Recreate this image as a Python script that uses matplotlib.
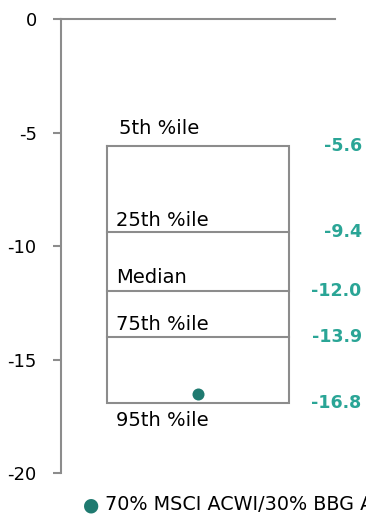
import matplotlib
matplotlib.use("Agg")
import matplotlib.pyplot as plt

# ===== data =====
pct_names = ["5th %ile", "25th %ile", "Median", "75th %ile", "95th %ile"]
pct_values = [-5.6, -9.4, -12.0, -14.0, -16.9]      # where the lines sit
pct_labels = ["-5.6", "-9.4", "-12.0", "-13.9", "-16.8"]  # printed values
portfolio_value = -16.5
portfolio_name = "70% MSCI ACWI/30% BBG Agg"
y_ticks = [0, -5, -10, -15, -20]
# =======================================

GRAY = "#8c8c8c"
TEAL_DOT = "#1f7a70"
TEAL_TXT = "#2aa596"

plt.rcParams["font.family"] = ["DejaVu Sans"]

fig = plt.figure(figsize=(3.66, 5.14), dpi=100)
ax = fig.add_axes([61 / 366, 1 - 473 / 514, 274 / 366, 454 / 514])

ax.set_xlim(-1, 1)
ax.set_ylim(-20, 0)

half_w = 0.667
top, bottom = pct_values[0], pct_values[-1]

# box outline
ax.plot([-half_w, half_w, half_w, -half_w, -half_w],
        [top, top, bottom, bottom, top], color=GRAY, lw=1.5,
        solid_joinstyle="miter")
# inner percentile lines
for v in pct_values[1:-1]:
    ax.plot([-half_w, half_w], [v, v], color=GRAY, lw=1.5)

# percentile names (baseline offsets above each line)
offsets = [0.55, 0.29, 0.35, 0.31]
label_xs = [-0.58, -0.60, -0.60, -0.60]
for name, v, off, lx in zip(pct_names[:-1], pct_values[:-1], offsets, label_xs):
    ax.text(lx, v + off, name, ha="left", va="baseline", fontsize=14,
            color="black")
ax.text(-0.60, pct_values[-1] - 1.03, pct_names[-1], ha="left",
        va="baseline", fontsize=14, color="black")

# value labels on the right
for v, lab in zip(pct_values, pct_labels):
    ax.text(1.195, v, lab, ha="right", va="center", fontsize=12.5,
            fontweight="bold", color=TEAL_TXT, clip_on=False)

# portfolio dot
ax.scatter([0], [portfolio_value], s=75, color=TEAL_DOT, zorder=5,
           linewidths=0)

# axes styling
for s in ["right", "bottom"]:
    ax.spines[s].set_visible(False)
for s in ["left", "top"]:
    ax.spines[s].set_color(GRAY)
    ax.spines[s].set_linewidth(1.5)
ax.set_xticks([])
ax.set_yticks(y_ticks)
ax.set_yticklabels([str(t) for t in y_ticks])
ax.tick_params(axis="y", length=6, width=1.5, color=GRAY, pad=11.5,
               labelsize=13, labelcolor="black")

# legend at the bottom (cut off at the right edge, as in the source)
fig.text(91.5 / 366, 1 - 505 / 514, "\u25CF", color=TEAL_DOT, fontsize=13.5,
         ha="center", va="center")
fig.text(105 / 366, 1 - 505 / 514, portfolio_name, color="black",
         fontsize=13.8, ha="left", va="center")

fig.savefig("out.png", dpi=100)
